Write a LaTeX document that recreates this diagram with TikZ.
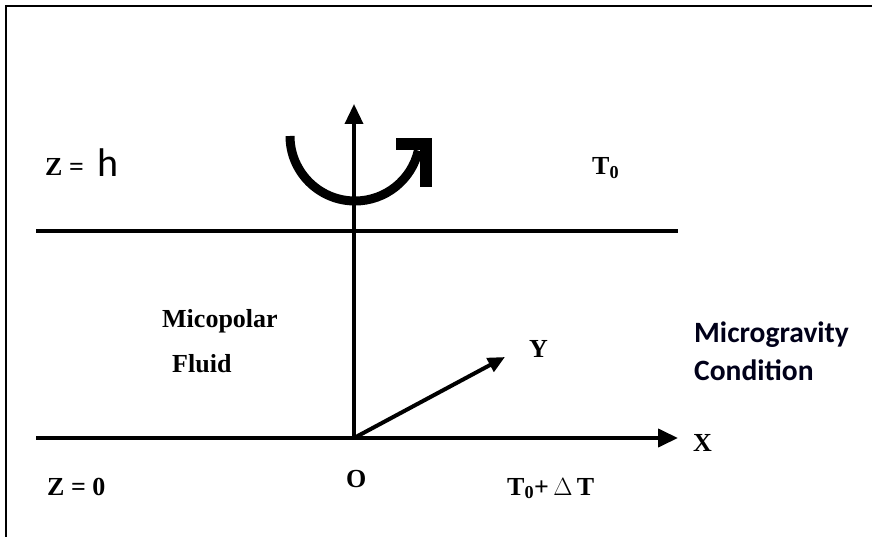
\documentclass[tikz,border=0pt]{standalone}
\usepackage{fontspec}
\setmainfont{Liberation Serif}
\newfontfamily\calibri{Carlito}
\usetikzlibrary{arrows.meta}
\begin{document}
\begin{tikzpicture}[x=1pt,y=-1pt,
  lbl/.style={font=\fontsize{26}{30}\selectfont\bfseries, inner sep=0pt},
  sans/.style={font=\calibri\bfseries\fontsize{29.5}{36}\selectfont, inner sep=0pt, text=black!90!blue},
  axis/.style={line width=4pt},
  tipbig/.style={-{Triangle[length=20pt,width=18pt]}},
  tipsmall/.style={-{Triangle[length=17pt,width=15pt]}}]
\useasboundingbox (0,0) rectangle (872,537);
\draw[line width=2.2pt] (6,537) -- (6,6) -- (872,6);
% axes
\coordinate (O) at (354,438);
\coordinate (TL) at (36,231);
\coordinate (TR) at (678,231);
\coordinate (BL) at (36,438);
\coordinate (BR) at (678,438);
\coordinate (ZT) at (354,104);
\coordinate (YT) at (505,357);
\draw[axis] (TL) -- (TR);
\draw[axis, tipbig] (BL) -- (BR);
\draw[line width=3.5pt, tipbig] (O) -- (ZT);
\draw[line width=4pt, tipsmall] (O) -- (YT);
% rotation arrow
\coordinate (arcstart) at (290,136);
\coordinate (chevA) at (396,144);
\coordinate (chevB) at (426,144);
\coordinate (chevC) at (426,187);
\draw[line width=9pt] (arcstart) arc[start angle=180, end angle=347, radius=65pt];
\draw[line width=12pt, miter limit=4] (chevA) -- (chevB) -- (chevC);
% labels
\node[lbl, anchor=base west] (zh) at (45,176) {Z =};
\node[font=\calibri\fontsize{40}{44}\selectfont, inner sep=0pt, anchor=base west] (h) at (97,177) {h};
\node[lbl, anchor=base west] (t0) at (592,175) {T\textsubscript{0}};
\node[lbl, anchor=base west] (mic) at (162,327) {Micopolar};
\node[lbl, anchor=base west] (fluid) at (172,372) {Fluid};
\node[lbl, anchor=base west] (y) at (529,357) {Y};
\node[sans, anchor=base west] (mg) at (694,342) {Microgravity};
\node[sans, anchor=base west] (cond) at (694,380) {Condition};
\node[lbl, anchor=base west] (x) at (693,451) {X};
\node[lbl, anchor=base west] (z0) at (47,495) {Z = 0};
\node[lbl, anchor=base west] (o) at (346,487) {O};
\node[lbl, anchor=base west] (tdt) at (507,495) {T\textsubscript{0}+\,$\Delta$\,T};
\end{tikzpicture}
\end{document}
